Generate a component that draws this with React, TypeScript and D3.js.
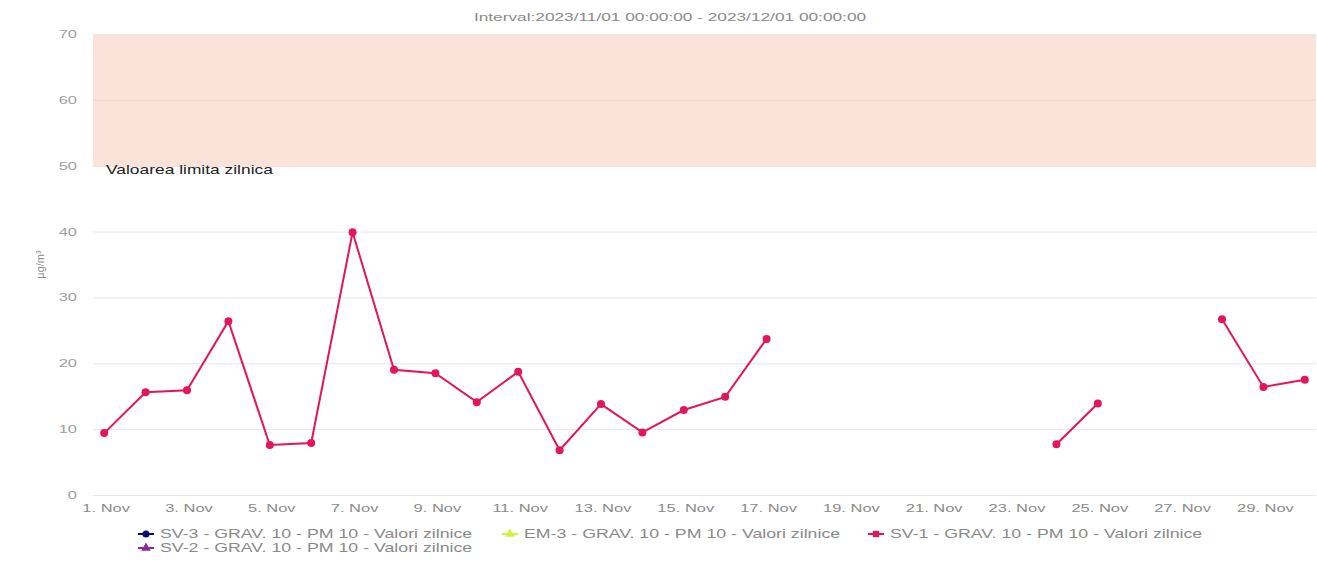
import { useEffect, useRef } from 'react'
import * as d3 from 'd3'

// day of November (1..30) and daily PM10 value, null = no data
const days = d3.range(1, 31)
const sv1Values: (number | null)[] = [
  9.4, 15.6, 15.9, 26.4, 7.6, 7.9, 39.9, 19.0, 18.5, 14.1,
  18.7, 6.8, 13.8, 9.5, 12.9, 14.9, 23.7, null, null, null,
  null, null, null, 7.7, 13.9, null, null, 26.7, 16.4, 17.5,
]
const yTicks = [0, 10, 20, 30, 40, 50, 60, 70]
const xTickDays = [1, 3, 5, 7, 9, 11, 13, 15, 17, 19, 21, 23, 25, 27, 29]
const limitBand = [50, 70]

const legendItems = [
  { name: 'SV-3 - GRAV. 10 - PM 10 - Valori zilnice', color: '#0b0b6e', symbol: d3.symbolCircle },
  { name: 'EM-3 - GRAV. 10 - PM 10 - Valori zilnice', color: '#d4f03c', symbol: d3.symbolTriangle },
  { name: 'SV-1 - GRAV. 10 - PM 10 - Valori zilnice', color: '#e3165b', symbol: d3.symbolSquare },
  { name: 'SV-2 - GRAV. 10 - PM 10 - Valori zilnice', color: '#8a2a9e', symbol: d3.symbolTriangle },
]

const width = 1317
const height = 567
const margin = { top: 34, right: 1, bottom: 72, left: 93 }
const font = '"Liberation Sans", Arial, sans-serif'
const SX = 1.5 // the source text is drawn horizontally stretched

const App = () => {
  const ref = useRef<SVGSVGElement>(null)

  useEffect(() => {
    const svg = d3.select(ref.current)
    svg.selectAll('*').remove()

    const x = d3
      .scaleLinear()
      .domain([0.73, 30.27])
      .range([margin.left, width - margin.right])
    const y = d3
      .scaleLinear()
      .domain([0, 70])
      .range([height - margin.bottom, margin.top])

    const wide = (tx: number, ty: number, sx = SX) => `translate(${tx},${ty}) scale(${sx},1)`

    svg.append('text')
      .attr('transform', wide(670, 21, 1.57))
      .attr('text-anchor', 'middle')
      .attr('font-family', font).attr('font-size', 11)
      .attr('fill', '#8a8a8a')
      .text('Interval:2023/11/01 00:00:00 - 2023/12/01 00:00:00')

    // limit band
    svg.append('rect')
      .attr('x', margin.left)
      .attr('width', width - margin.right - margin.left)
      .attr('y', y(limitBand[1]))
      .attr('height', y(limitBand[0]) - y(limitBand[1]))
      .attr('fill', '#fbe3d9')

    // grid
    svg.append('g')
      .selectAll('line')
      .data(yTicks)
      .join('line')
      .attr('x1', margin.left).attr('x2', width - margin.right)
      .attr('y1', (d) => y(d) + 0.5).attr('y2', (d) => y(d) + 0.5)
      .attr('stroke', (d) => (d >= 50 && d < 70 ? '#f2d3c8' : '#e6e6e6'))
      .attr('stroke-width', 1)

    svg.append('text')
      .attr('transform', wide(106, y(50) + 8, 1.45))
      .attr('font-family', font).attr('font-size', 12)
      .attr('fill', '#222')
      .text('Valoarea limita zilnica')

    // y axis labels
    svg.append('g')
      .selectAll('text')
      .data(yTicks)
      .join('text')
      .attr('transform', (d) => wide(77, y(d) + 4))
      .attr('text-anchor', 'end')
      .attr('font-family', font).attr('font-size', 11)
      .attr('fill', '#a0a0a0')
      .text((d) => d)

    svg.append('text')
      .attr('transform', `translate(44,${y(35)}) rotate(-90)`)
      .attr('text-anchor', 'middle')
      .attr('font-family', font).attr('font-size', 11)
      .attr('fill', '#8a8a8a')
      .text('µg/m³')

    // x axis labels
    svg.append('g')
      .selectAll('text')
      .data(xTickDays)
      .join('text')
      .attr('transform', (d) => wide(x(d) + 2, height - margin.bottom + 17))
      .attr('text-anchor', 'middle')
      .attr('font-family', font).attr('font-size', 11)
      .attr('fill', '#8a8a8a')
      .text((d) => `${d}. Nov`)

    // series
    const pts = days.map((d, i) => ({ d, v: sv1Values[i] }))
    const line = d3
      .line<{ d: number; v: number | null }>()
      .defined((p) => p.v !== null)
      .x((p) => x(p.d))
      .y((p) => y(p.v as number))

    svg.append('path')
      .datum(pts)
      .attr('d', line)
      .attr('fill', 'none')
      .attr('stroke', '#e3165b')
      .attr('stroke-width', 2)

    svg.append('g')
      .selectAll('circle')
      .data(pts.filter((p) => p.v !== null))
      .join('circle')
      .attr('cx', (p) => x(p.d))
      .attr('cy', (p) => y(p.v as number))
      .attr('r', 4)
      .attr('fill', '#e3165b')

    // legend
    const legendPos = [
      [138, 534], [502, 534], [868, 534], [138, 548],
    ]
    const lg = svg.append('g')
      .selectAll('g')
      .data(legendItems)
      .join('g')
      .attr('transform', (_, i) => `translate(${legendPos[i][0]},${legendPos[i][1]})`)
    lg.append('line')
      .attr('x1', 0).attr('x2', 16)
      .attr('stroke', (d) => d.color).attr('stroke-width', 2)
    lg.append('path')
      .attr('transform', 'translate(8,0)')
      .attr('d', (d) => d3.symbol(d.symbol, 40)())
      .attr('fill', (d) => d.color)
    lg.append('text')
      .attr('transform', wide(22, 4, 1.48))
      .attr('font-family', font).attr('font-size', 12)
      .attr('fill', '#8a8a8a')
      .text((d) => d.name)
  }, [])

  return (
    <svg
      ref={ref}
      width={width}
      height={height}
      style={{ position: 'absolute', left: 0, top: 0, background: '#fff' }}
    />
  )
}

export default App
